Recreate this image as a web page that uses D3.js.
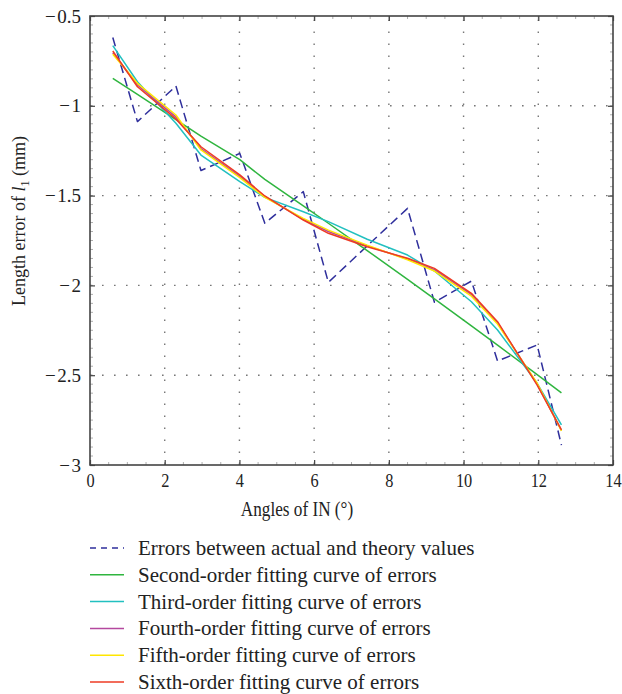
<!DOCTYPE html>
<html>
<head>
<meta charset="utf-8">
<script src="https://cdn.jsdelivr.net/npm/d3@7"></script>
<style>
  html, body { margin: 0; padding: 0; background: #fff; }
  svg text { font-family: "Liberation Serif", "DejaVu Serif", serif; fill: #222; }
</style>
</head>
<body>
<svg id="chart" width="622" height="694"></svg>
<script>
// Sample angles (degrees) and measured length errors of l1 (mm)
const angles = [0.61, 1.27, 2.30, 2.97, 4.01, 4.68, 5.71, 6.38, 7.42, 8.50, 9.22, 10.21, 10.91, 11.97, 12.62];
const errors = [-0.62, -1.088, -0.89, -1.36, -1.265, -1.654, -1.478, -1.983, -1.78, -1.571, -2.094, -1.976, -2.421, -2.332, -2.889];

// Polynomial fits evaluated at the same angles
const fit2 = [-0.847, -0.936, -1.077, -1.169, -1.300, -1.410, -1.557, -1.654, -1.806, -1.967, -2.075, -2.225, -2.332, -2.497, -2.598];
const fit3 = [-0.665, -0.866, -1.097, -1.274, -1.422, -1.510, -1.590, -1.645, -1.743, -1.831, -1.920, -2.091, -2.248, -2.545, -2.777];
const fit4 = [-0.705, -0.884, -1.062, -1.238, -1.393, -1.506, -1.632, -1.700, -1.780, -1.853, -1.912, -2.052, -2.208, -2.550, -2.808];
const fit5 = [-0.713, -0.875, -1.051, -1.246, -1.400, -1.510, -1.627, -1.692, -1.776, -1.857, -1.920, -2.060, -2.215, -2.545, -2.810];
const fit6 = [-0.695, -0.894, -1.073, -1.228, -1.385, -1.502, -1.636, -1.710, -1.785, -1.849, -1.905, -2.044, -2.202, -2.555, -2.805];

const seriesNames = [
  "Errors between actual and theory values",
  "Second-order fitting curve of errors",
  "Third-order fitting curve of errors",
  "Fourth-order fitting curve of errors",
  "Fifth-order fitting curve of errors",
  "Sixth-order fitting curve of errors"
];
const seriesValues = [errors, fit2, fit3, fit4, fit5, fit6];
const seriesColors = ["#2f2f9c", "#2fb53f", "#22c0c0", "#b4489e", "#ffe600", "#ee3b24"];

const xTicks = [0, 2, 4, 6, 8, 10, 12, 14];
const yTicks = [-0.5, -1, -1.5, -2, -2.5, -3];

const svg = d3.select("#chart");
const plotLeft = 90, plotRight = 613, plotTop = 16, plotBottom = 465;

const x = d3.scaleLinear().domain([0, 14]).range([plotLeft, plotRight]);
const y = d3.scaleLinear().domain([-3, -0.5]).range([plotBottom, plotTop]);

const fmt = v => (v < 0 ? "\u2212\u200A" + Math.abs(v) : String(v));

// Dotted grid
const grid = svg.append("g").attr("stroke", "#777").attr("stroke-width", 1.4)
  .attr("stroke-dasharray", "1.6,10.4");
grid.selectAll("line.gx").data(xTicks.slice(1, -1)).join("line")
  .attr("x1", d => x(d)).attr("x2", d => x(d)).attr("y1", plotBottom).attr("y2", plotTop);
grid.selectAll("line.gy").data(yTicks.slice(1, -1)).join("line")
  .attr("y1", d => y(d)).attr("y2", d => y(d)).attr("x1", plotLeft).attr("x2", plotRight);

// Minor ticks
const minor = svg.append("g").attr("stroke", "#999").attr("stroke-width", 0.8);
const yMinor = d3.range(-3, -0.5, 0.05).map(v => +v.toFixed(2));
minor.selectAll("line.ym").data(yMinor).join("line")
  .attr("x1", plotLeft).attr("x2", plotLeft + 3).attr("y1", d => y(d)).attr("y2", d => y(d));
minor.selectAll("line.ym2").data(yMinor).join("line")
  .attr("x1", plotRight).attr("x2", plotRight - 3).attr("y1", d => y(d)).attr("y2", d => y(d));
const xMinor = d3.range(0, 14, 0.5);
minor.selectAll("line.xm").data(xMinor).join("line")
  .attr("y1", plotBottom).attr("y2", plotBottom - 3).attr("x1", d => x(d)).attr("x2", d => x(d));
minor.selectAll("line.xm2").data(xMinor).join("line")
  .attr("y1", plotTop).attr("y2", plotTop + 3).attr("x1", d => x(d)).attr("x2", d => x(d));

// Axes with inward ticks
const xAxis = svg.append("g").attr("transform", `translate(0,${plotBottom})`)
  .call(d3.axisBottom(x).tickValues(xTicks).tickSizeInner(-5).tickSizeOuter(0).tickPadding(9).tickFormat(d => d));
const yAxis = svg.append("g").attr("transform", `translate(${plotLeft},0)`)
  .call(d3.axisLeft(y).tickValues(yTicks).tickSizeInner(-5).tickSizeOuter(0).tickPadding(9).tickFormat(fmt));
const xAxisTop = svg.append("g").attr("transform", `translate(0,${plotTop})`)
  .call(d3.axisTop(x).tickValues(xTicks).tickSizeInner(-5).tickSizeOuter(0).tickFormat(""));
const yAxisRight = svg.append("g").attr("transform", `translate(${plotRight},0)`)
  .call(d3.axisRight(y).tickValues(yTicks).tickSizeInner(-5).tickSizeOuter(0).tickFormat(""));
[xAxis, yAxis, xAxisTop, yAxisRight].forEach(g => {
  g.select(".domain").remove();
  g.selectAll(".tick line").attr("stroke", "#444").attr("stroke-width", 1.2);
  g.selectAll("text").attr("font-size", 19).attr("fill", "#222")
    .attr("font-family", "Liberation Serif, DejaVu Serif, serif");
});
// Slightly condensed digits along the bottom axis
xAxis.selectAll("text").attr("dy", "0.71em").attr("transform", "scale(0.86,1)");

// Frame
svg.append("rect").attr("x", plotLeft).attr("y", plotTop)
  .attr("width", plotRight - plotLeft).attr("height", plotBottom - plotTop)
  .attr("fill", "none").attr("stroke", "#444").attr("stroke-width", 1.6);

// Series lines
const lineGen = vals => d3.line().x((d, i) => x(angles[i])).y(d => y(d))(vals);
const plot = svg.append("g");
seriesValues.forEach((vals, k) => {
  plot.append("path")
    .attr("d", lineGen(vals))
    .attr("fill", "none")
    .attr("stroke", seriesColors[k])
    .attr("stroke-width", 1.5)
    .attr("stroke-linejoin", "round")
    .attr("stroke-dasharray", k === 0 ? "9,5" : null);
});

// Axis titles
svg.append("text").attr("transform", "translate(297,516) scale(0.86,1)")
  .attr("text-anchor", "middle").attr("font-size", 20).text("Angles of IN (°)");

const yt = svg.append("text")
  .attr("transform", "translate(25,221) rotate(-90)")
  .attr("text-anchor", "start").attr("font-size", 18);
yt.append("tspan").text("Length error of ");
yt.append("tspan").attr("font-style", "italic").text("l");
yt.append("tspan").attr("font-size", 12).attr("dy", 4).text("1");
yt.append("tspan").attr("dy", -4).text(" (mm)");
const ytBox = yt.node().getBBox();
yt.attr("x", -(ytBox.width / 2));

// Legend
const legend = svg.append("g");
const rows = legend.selectAll("g").data(seriesNames).join("g")
  .attr("transform", (d, i) => `translate(90,${548 + i * 26.8})`);
rows.append("line").attr("x1", 0).attr("x2", 34).attr("y1", 0).attr("y2", 0)
  .attr("stroke", (d, i) => seriesColors[i]).attr("stroke-width", 1.5)
  .attr("stroke-dasharray", (d, i) => i === 0 ? "6,5" : null);
rows.append("text").attr("x", 48).attr("y", 0).attr("dy", "0.33em")
  .attr("font-size", 21).text(d => d);
</script>
</body>
</html>
